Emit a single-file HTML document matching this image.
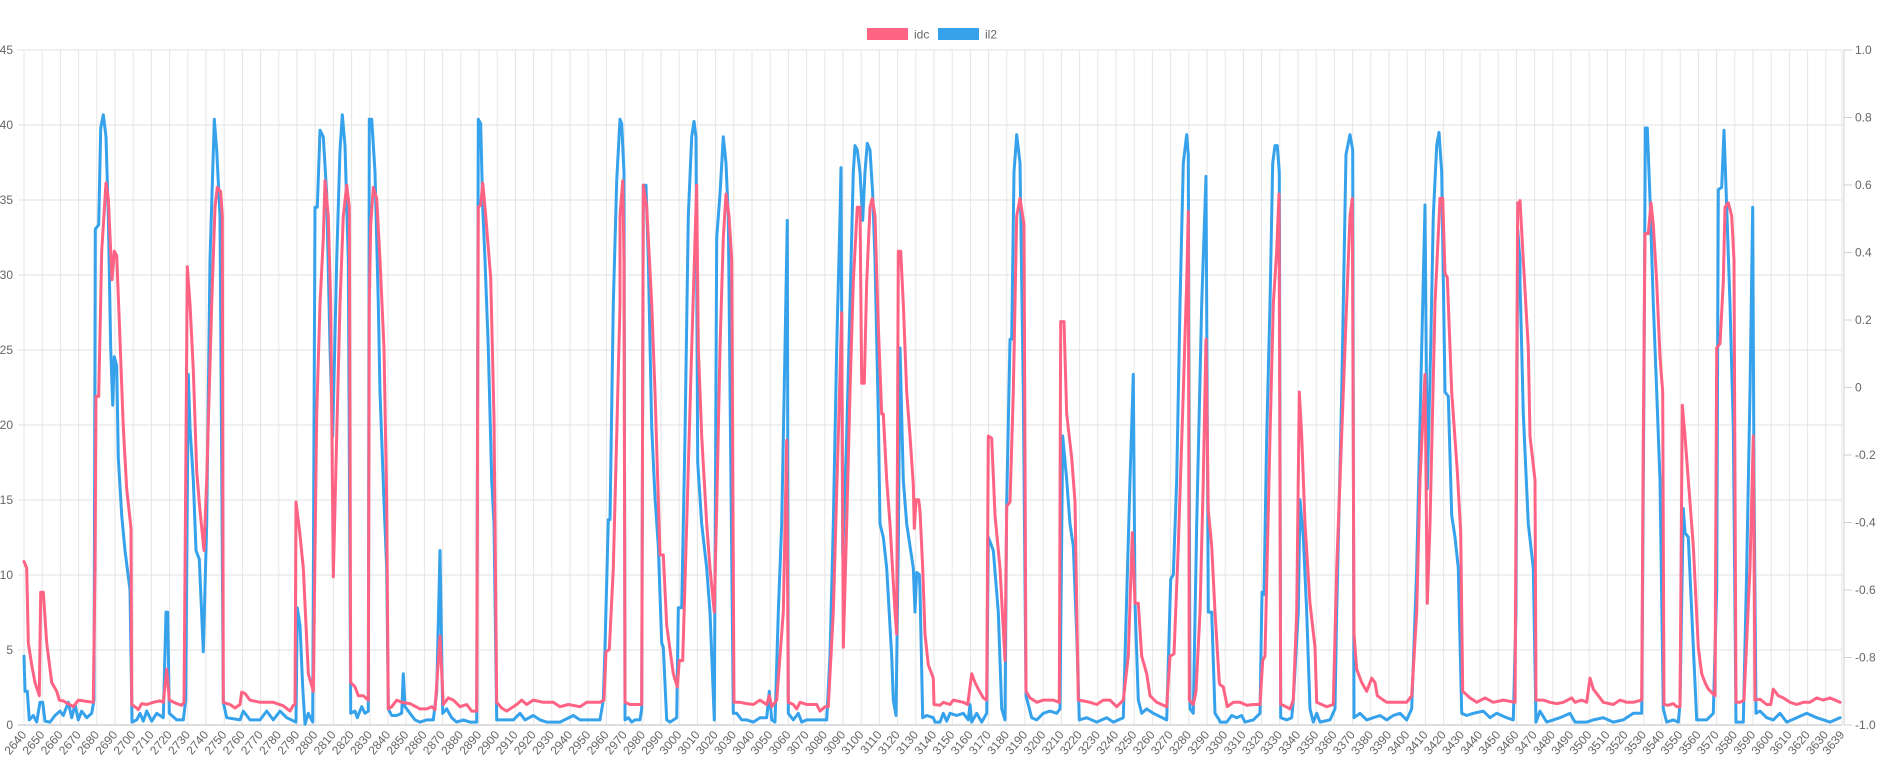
<!DOCTYPE html>
<html><head><meta charset="utf-8"><style>
html,body{margin:0;padding:0;background:#fff;width:1890px;height:772px;overflow:hidden}
svg{display:block;font-family:"Liberation Sans",Arial,sans-serif}
</style></head><body>
<svg id="c" width="1890" height="772" xmlns="http://www.w3.org/2000/svg"></svg>
<script>
const NS="http://www.w3.org/2000/svg",svg=document.getElementById('c');
function el(t,a,txt){const e=document.createElementNS(NS,t);for(const k in a)e.setAttribute(k,a[k]);if(txt!==undefined)e.textContent=txt;svg.appendChild(e);return e;}
const X0=24,X1=1842,Y0=725,Y45=50;
// vertical grid
for(let i=0;i<=99;i++){const x=X0+i*18.2;el('line',{x1:x,y1:Y45,x2:x,y2:Y0+(i%1==0?0:0),stroke:'#e6e6e6','stroke-width':1});}
el('line',{x1:X1,y1:Y45,x2:X1,y2:Y0,stroke:'#e6e6e6'});
// horizontal grid + left labels
for(let v=0;v<=45;v+=5){const y=Y0-v*15;el('line',{x1:X0-6,y1:y,x2:X1,y2:y,stroke:v==0?'#bdbdbd':'#e0e0e0','stroke-width':1});
el('text',{x:13,y:y+4,'text-anchor':'end','font-size':12,fill:'#666'},String(v));}
// right axis
el('line',{x1:X1+2,y1:Y45,x2:X1+2,y2:Y0,stroke:'#d0d0d0'});
for(let i=0;i<=10;i++){const y=Y45+i*67.5;const v=(1-i*0.2);let s=Math.abs(v)<1e-9?'0':v.toFixed(1);
el('line',{x1:X1+2,y1:y,x2:X1+10,y2:y,stroke:'#d0d0d0'});
el('text',{x:X1+13,y:y+4,'font-size':12,fill:'#666'},s);}
// x labels
for(let i=0;i<=99;i++){const x=X0+i*18.2;el('text',{x:x+3,y:735,'text-anchor':'end','font-size':12,fill:'#666',transform:`rotate(-50 ${x+3} 735)`},String(2640+i*10));}
el('text',{x:X1+3,y:735,'text-anchor':'end','font-size':12,fill:'#666',transform:`rotate(-50 ${X1+3} 735)`},'3639');
// legend
el('rect',{x:867,y:28,width:41,height:12,fill:'#ff6384'});
el('text',{x:914,y:38.5,'font-size':12,fill:'#666'},'idc');
el('rect',{x:938,y:28,width:41,height:12,fill:'#36a2eb'});
el('text',{x:985,y:38.5,'font-size':12,fill:'#666'},'il2');

const R=[
[20,[[12,1185],[20,1200],[25,1370],[35,1420],[45,1460],[58,1490],[62,1255],[70,1255],[80,1370],[95,1460],[110,1480],[118,1500],[130,1502],[160,1515],[175,1500],[200,1503],[220,1505],[225,1200],[228,810],[236,810],[245,480],[258,325],[265,360],[276,545],[283,480],[290,490],[298,640],[310,880],[320,1020],[333,1110],[335,1510],[345,1515],[355,1522],[365,1508],[380,1510],[400,1505],[420,1502],[430,1505],[440,1430],[448,1500],[470,1508],[485,1512],[492,1505],[497,1000],[502,515],[510,600],[520,750],[530,980],[540,1070],[552,1160],[560,1000],[575,600],[585,380],[592,335],[602,345],[607,400],[610,1505],[630,1510],[645,1518],[660,1510],[665,1482],[675,1485],[690,1500],[720,1505],[760,1505],[790,1513],[810,1525],[820,1512],[825,1510],[828,1050],[838,1110],[850,1200],[865,1440],[880,1480],[890,850],[900,600]]],
[320,[[10,450],[15,320],[25,400],[32,600],[40,1220],[50,900],[60,600],[70,400],[80,330],[88,380],[92,1460],[105,1470],[115,1490],[130,1490],[145,1500],[148,600],[152,420],[160,335],[170,360],[180,500],[192,700],[200,1050],[205,1520],[215,1515],[230,1500],[245,1505],[270,1508],[300,1520],[320,1520],[335,1515],[345,1522],[360,1355],[370,1510],[385,1495],[400,1500],[420,1515],[440,1510],[455,1525],[470,1525],[475,380],[482,375],[488,325],[495,380],[512,540],[522,860],[530,1505],[545,1518],[560,1525],[590,1510],[605,1500],[620,1510],[640,1500],[670,1505],[700,1505],[720,1515],[745,1510],[780,1515],[800,1505],[840,1505],[852,1500],[858,1390],[868,1385],[880,1200],[890,900],[900,600]]],
[620,[[0,400],[8,320],[12,500],[15,1505],[30,1510],[45,1510],[65,1510],[70,330],[80,380],[95,600],[105,800],[120,1170],[130,1170],[140,1330],[160,1440],[172,1470],[178,1410],[188,1410],[200,1100],[215,700],[230,330],[235,700],[245,900],[260,1100],[270,1200],[283,1300],[292,1000],[300,700],[310,450],[318,350],[327,400],[335,500],[342,1505],[360,1505],[380,1508],[400,1510],[420,1500],[440,1510],[448,1490],[455,1515],[470,1500],[490,1300],[500,910],[505,1505],[520,1510],[530,1520],[540,1505],[560,1510],[590,1510],[600,1525],[615,1515],[625,1515],[640,1300],[655,900],[665,620],[670,1380],[680,1100],[690,800],[700,550],[712,380],[720,380],[725,780],[733,780],[740,550],[750,380],[757,360],[765,400],[775,650],[785,850],[790,850],[800,1000],[810,1100],[825,1300],[830,1350],[835,480],[842,480],[850,600],[860,800],[870,900],[880,1010],[883,1110],[888,1045],[896,1045]]],
[920,[[0,1070],[8,1200],[15,1350],[25,1420],[40,1450],[42,1510],[60,1512],[70,1505],[90,1510],[100,1500],[130,1505],[143,1510],[155,1440],[165,1460],[175,1475],[190,1495],[200,1500],[205,900],[215,905],[225,1080],[240,1200],[255,1410],[260,1060],[270,1050],[280,800],[290,400],[300,360],[312,420],[318,1480],[330,1495],[350,1505],[370,1500],[400,1500],[418,1505],[422,640],[432,640],[440,850],[455,950],[465,1050],[475,1500],[490,1502],[510,1505],[530,1510],[550,1500],[570,1500],[590,1515],[610,1500],[625,1400],[637,1120],[645,1280],[655,1280],[665,1400],[680,1440],[690,1490],[710,1505],[740,1515],[750,1400],[762,1395],[775,1150],[790,800],[800,550],[805,390],[808,1500],[820,1510],[828,1480],[840,1300],[850,1000],[858,680],[865,1070],[875,1150],[885,1300],[898,1460]]],
[1220,[[0,1465],[10,1470],[22,1515],[40,1505],[60,1505],[80,1512],[100,1510],[120,1510],[128,1410],[135,1400],[150,900],[160,600],[170,480],[177,350],[182,1510],[190,1512],[210,1520],[220,1500],[230,1300],[238,800],[245,900],[255,1100],[270,1280],[285,1380],[290,1505],[320,1515],[340,1510],[350,1200],[370,800],[390,400],[397,360],[402,1350],[410,1430],[425,1460],[440,1480],[455,1450],[465,1460],[472,1490],[490,1500],[500,1505],[530,1505],[560,1505],[575,1490],[590,1300],[600,1000],[615,760],[622,1280],[630,1100],[645,600],[660,360],[668,360],[675,530],[682,540],[695,800],[712,980],[722,1120],[728,1480],[750,1495],[770,1505],[795,1495],[820,1505],[850,1500],[885,1505],[893,370],[900,370]]],
[1520,[[0,365],[10,500],[25,700],[30,900],[45,1000],[48,1500],[70,1500],[90,1505],[110,1508],[130,1505],[155,1495],[165,1505],[185,1500],[200,1505],[210,1450],[220,1475],[235,1490],[250,1505],[280,1510],[300,1500],[320,1505],[340,1505],[365,1500],[370,900],[375,440],[385,440],[393,370],[400,420],[410,550],[420,720],[428,800],[432,1510],[445,1512],[460,1508],[470,1515],[480,1515],[487,830],[495,900],[505,1000],[520,1150],[535,1380],[545,1440],[555,1460],[565,1475],[585,1490],[590,700],[600,690],[610,550],[615,380],[625,370],[635,400],[642,500],[648,1505],[660,1505],[672,1500],[690,1200],[700,900],[705,1500],[720,1498],[740,1510],[752,1510],[760,1475],[775,1490],[790,1495],[810,1505],[830,1510],[850,1505],[870,1505],[890,1495],[910,1500],[930,1495],[960,1505]]]
];
const B=[
[20,[[12,1400],[15,1480],[22,1480],[28,1545],[40,1535],[50,1550],[60,1505],[68,1505],[75,1548],[90,1550],[105,1535],[120,1525],[130,1535],[145,1505],[155,1540],[165,1510],[175,1545],[185,1525],[200,1540],[215,1530],[222,1500],[226,430],[236,420],[242,200],[250,170],[258,220],[265,400],[272,700],[278,830],[283,720],[290,740],[295,950],[305,1080],[315,1160],[330,1250],[336,1550],[350,1545],[360,1530],[370,1548],[380,1525],[395,1548],[410,1530],[430,1540],[438,1300],[443,1300],[448,1530],[470,1545],[490,1545],[497,1500],[505,760],[510,880],[520,1000],[528,1160],[538,1180],[550,1390],[560,1100],[570,500],[583,180],[590,250],[600,400],[610,1505],[620,1540],[660,1545],[670,1525],[690,1545],[720,1545],[740,1525],[760,1545],[780,1525],[800,1540],[828,1550],[832,1290],[840,1330],[848,1470],[855,1555],[865,1530],[878,1550],[885,380],[892,380],[900,205]]],
[320,[[10,220],[20,350],[30,700],[38,900],[50,500],[60,250],[67,170],[75,240],[85,500],[92,1530],[105,1525],[112,1540],[125,1515],[135,1530],[145,1525],[148,180],[155,180],[165,300],[175,600],[180,800],[192,1050],[200,1200],[205,1520],[215,1535],[230,1535],[245,1530],[250,1440],[255,1515],[270,1530],[285,1545],[300,1550],[320,1545],[340,1545],[350,1480],[360,1160],[368,1530],[380,1520],[395,1540],[410,1550],[430,1545],[450,1550],[470,1550],[475,180],[482,190],[488,380],[495,500],[505,700],[515,1000],[522,1100],[530,1545],[560,1545],[580,1545],[600,1530],[615,1545],[640,1535],[660,1545],[680,1550],[720,1550],[760,1535],[780,1545],[840,1545],[850,1500],[855,1380],[865,1090],[870,1090],[880,600],[890,320],[900,180]]],
[620,[[5,190],[12,300],[15,1545],[25,1540],[35,1550],[45,1545],[60,1545],[65,1520],[70,330],[78,330],[85,500],[95,880],[105,1040],[115,1150],[125,1370],[130,1380],[140,1545],[150,1550],[170,1540],[175,1290],[185,1290],[195,900],[205,400],[215,220],[222,185],[228,220],[233,960],[245,1100],[260,1200],[270,1300],[283,1545],[290,450],[300,350],[310,220],[318,280],[325,400],[340,1530],[350,1530],[365,1545],[380,1545],[400,1550],[420,1540],[440,1540],[448,1480],[455,1545],[465,1550],[475,1300],[485,1100],[495,700],[502,410],[505,1530],[520,1545],[535,1530],[545,1550],[560,1545],[590,1545],[620,1545],[630,1400],[640,1100],[650,700],[660,400],[663,290],[668,1170],[680,900],[690,600],[700,300],[705,240],[712,250],[720,300],[728,410],[735,300],[742,235],[750,250],[758,350],[765,500],[775,850],[780,1100],[790,1130],[800,1200],[815,1400],[820,1500],[828,1535],[835,1150],[840,700],[850,1000],[860,1100],[870,1150],[880,1200],[885,1300],[890,1210],[898,1215]]],
[920,[[0,1250],[8,1540],[20,1535],[40,1540],[45,1550],[60,1550],[70,1530],[80,1548],[90,1530],[110,1535],[130,1530],[145,1545],[150,1510],[155,1550],[170,1530],[185,1550],[200,1530],[205,1130],[220,1160],[235,1300],[245,1520],[255,1545],[260,1050],[270,680],[275,680],[282,300],[290,215],[300,280],[310,800],[318,1490],[335,1540],[350,1545],[370,1530],[390,1525],[410,1530],[420,1520],[428,900],[440,1000],[450,1100],[460,1150],[470,1350],[478,1545],[500,1540],[530,1550],[560,1540],[580,1550],[610,1540],[630,1000],[640,760],[645,1280],[655,1500],[665,1530],[680,1520],[700,1530],[740,1545],[752,1225],[760,1215],[770,1000],[780,600],[790,280],[800,215],[805,260],[810,1520],[820,1530],[830,1100],[845,600],[858,310],[865,1300],[875,1300],[885,1530],[898,1545]]],
[1220,[[0,1550],[20,1550],[35,1535],[50,1540],[65,1535],[75,1550],[100,1545],[120,1530],[126,1255],[132,1260],[140,900],[150,600],[158,280],[165,240],[172,240],[178,300],[182,1540],[200,1545],[215,1540],[220,1500],[235,1300],[240,1045],[250,1130],[260,1300],[270,1520],[280,1550],[290,1530],[300,1550],[330,1545],[345,1520],[350,1300],[365,800],[378,260],[390,215],[398,250],[402,1540],[420,1530],[440,1545],[460,1540],[480,1535],[500,1545],[520,1535],[540,1530],[560,1545],[575,1520],[590,1200],[605,700],[615,375],[622,1020],[632,700],[640,400],[650,240],[657,210],[665,300],[675,800],[685,810],[695,1080],[705,1130],[715,1200],[725,1530],[740,1535],[760,1530],[790,1525],[810,1540],[830,1530],[860,1540],[880,1545],[888,1300],[893,430],[900,500]]],
[1520,[[0,550],[5,700],[10,850],[25,1100],[40,1200],[48,1550],[60,1525],[80,1550],[100,1545],[120,1540],[150,1530],[165,1550],[200,1550],[220,1545],[250,1540],[280,1550],[310,1545],[340,1530],[365,1530],[372,780],[376,200],[382,200],[390,360],[400,600],[410,800],[420,1000],[430,1520],[440,1550],[460,1545],[475,1550],[480,1510],[490,1065],[495,1120],[505,1130],[515,1300],[530,1545],[560,1545],[580,1530],[590,1250],[595,340],[605,335],[612,205],[620,380],[630,600],[640,880],[648,1550],[670,1550],[680,1200],[690,800],[698,380],[702,1000],[708,1530],[720,1525],[740,1540],[760,1545],[780,1530],[800,1550],[830,1540],[860,1530],[890,1540],[930,1550],[960,1540]]]
];
function path(data){let pts=[];for(const [ox,arr] of data){for(const [xz,yz] of arr){const x=ox+xz/3;if(x>X1)continue;pts.push([x,40+yz/2.2725]);}}
return 'M'+pts.map(p=>p[0].toFixed(1)+','+p[1].toFixed(1)).join(' L');}
el('path',{d:path(B),fill:'none',stroke:'#36a2eb','stroke-width':3,'stroke-linejoin':'round','stroke-linecap':'round'});
el('path',{d:path(R),fill:'none',stroke:'#ff6384','stroke-width':3,'stroke-linejoin':'round','stroke-linecap':'round'});
</script>
</body></html>
